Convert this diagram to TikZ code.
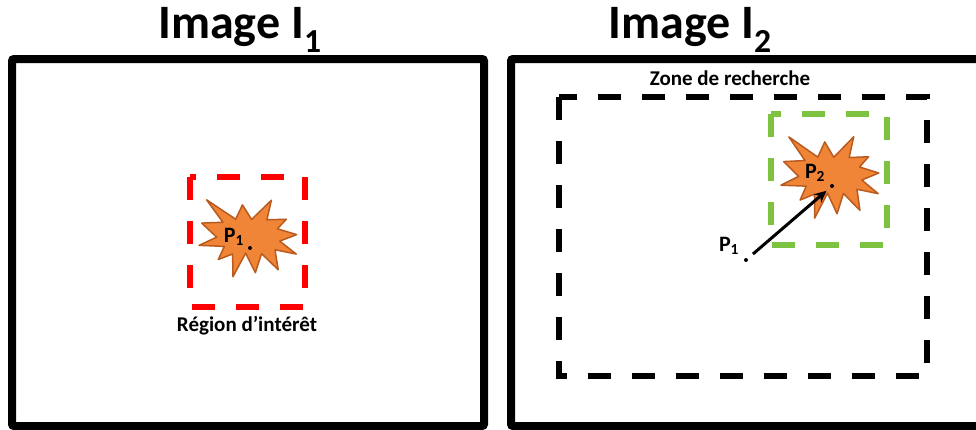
\documentclass[tikz,border=0pt]{standalone}
\usepackage{fontspec}
\setmainfont{Carlito}
\usetikzlibrary{arrows.meta}
\definecolor{burstfill}{RGB}{240,133,56}
\definecolor{burstline}{RGB}{185,90,30}
\definecolor{regred}{RGB}{255,0,0}
\definecolor{regreen}{RGB}{125,195,65}
\tikzset{
  frame/.style={line width=8pt, rounded corners=2pt},
  dashbox/.style={line width=6.5pt, dash pattern=on 23pt off 21pt},
  burststyle/.style={fill=burstfill, draw=burstline, line width=1.5pt, line join=round},
  title/.style={font=\fontsize{48}{50}\selectfont\bfseries, inner sep=0pt},
  lbl/.style={font=\fontsize{21}{23}\selectfont\bfseries, inner sep=0pt},
  plbl/.style={font=\fontsize{22}{24}\selectfont\bfseries, inner sep=0pt},
  pdot/.style={circle, fill=black, inner sep=0pt, minimum size=4pt},
}
\newcommand\burstpath{(50,26.85)--(67.23,0)--(65.53,24.65)--(85.09,20.63)--(77.32,33.87)--(97.67,37.67)--(81.51,48.50)--(100,61.53)--(77.95,59.92)--(84.00,83.77)--(64.91,66.93)--(61.33,91.38)--(48.76,69.14)--(39.28,100)--(35.72,72.35)--(22.05,81.56)--(26.24,64.52)--(0.63,67.53)--(17.23,54.51)--(0,39.88)--(21.42,35.26)--(1.71,10.63)--(33.85,29.26)--(38.67,10.63)--cycle}
\begin{document}
\begin{tikzpicture}[x=1pt,y=-1pt]
\useasboundingbox (0,0) rectangle (976,429);
\clip (0,0) rectangle (976,429);
% titles
\node[title] (t1) at (240,30) {Image I\textsubscript{1}};
\node[title] (t2) at (690,30) {Image I\textsubscript{2}};
% frames
\draw[frame] (12,59) rectangle (484,426);
\draw[frame] (511,59) rectangle (990,426);
% left: region of interest
\draw[dashbox, regred] (190,177) rectangle (305,307);
\begin{scope}[shift={(249,238)}, rotate=-8, xscale=0.98, yscale=0.81]
  \draw[burststyle, shift={(-50,-50)}] \burstpath;
\end{scope}
\node[pdot] (p1dot) at (250,248) {};
\node[plbl] (p1) at (234,237) {P\textsubscript{1}};
\node[lbl] (roi) at (247,326) {Région d’intérêt};
% right: search zone
\node[lbl] (zone) at (730,78) {Zone de recherche};
\draw[dashbox, black] (559,97) rectangle (927,376);
\draw[dashbox, regreen, line width=6pt] (771,114) rectangle (887,245);
\begin{scope}[shift={(831,177)}, rotate=-8, xscale=0.98, yscale=0.86]
  \draw[burststyle, shift={(-50,-50)}] \burstpath;
\end{scope}
\node[pdot] (p2dot) at (832,186) {};
\node[plbl] (p2) at (815,173) {P\textsubscript{2}};
\node[pdot] (p1bdot) at (746,260) {};
\node[plbl] (p1b) at (729,246) {P\textsubscript{1}};
\draw[line width=3pt, shorten <=7pt, shorten >=5pt, -{Stealth[length=12pt,width=11pt]}] (p1bdot) -- (p2dot);
\end{tikzpicture}
\end{document}
